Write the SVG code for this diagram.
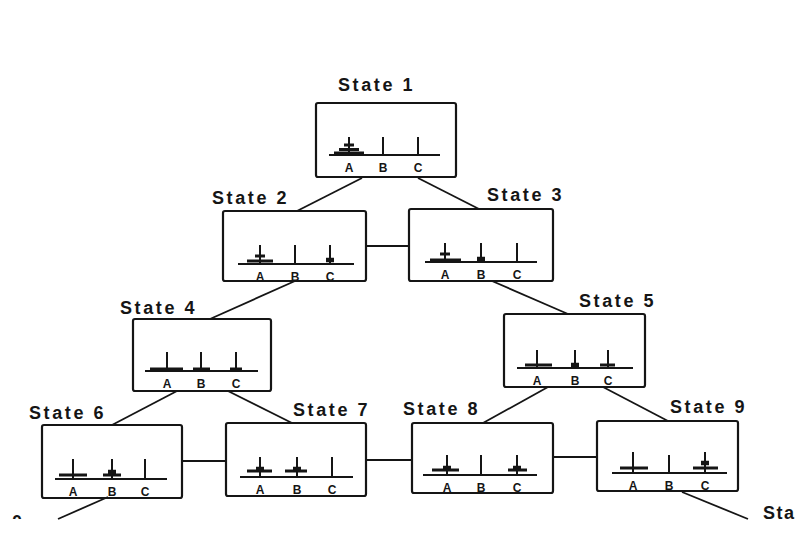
<svg xmlns="http://www.w3.org/2000/svg" width="795" height="539" viewBox="0 0 795 539">
<style>
.box{fill:none;stroke:#151515;stroke-width:2.2}
.edge{stroke:#151515;stroke-width:1.8;fill:none}
.base{stroke:#151515;stroke-width:2}
.peg{stroke:#151515;stroke-width:2}
.disk{stroke:#151515;stroke-width:3}
.dot{stroke:#151515;stroke-width:4.5}
.lbl{font-family:"Liberation Sans",Arial,sans-serif;font-weight:bold;font-size:18px;letter-spacing:2.6px;fill:#151515}
.pl{font-family:"Liberation Sans",Arial,sans-serif;font-weight:bold;font-size:12px;text-anchor:middle;fill:#151515}
</style>
<defs>
<clipPath id="cut"><rect x="0" y="0" width="795" height="519"/></clipPath>
</defs>
<rect x="0" y="0" width="795" height="539" fill="#ffffff"/>

<g id="connectors">
<line class="edge" x1="362" y1="178" x2="297" y2="211"/>
<line class="edge" x1="418" y1="178" x2="479" y2="209"/>
<line class="edge" x1="366" y1="246" x2="409" y2="246"/>
<line class="edge" x1="295" y1="281" x2="210" y2="319"/>
<line class="edge" x1="492" y1="281" x2="568" y2="314"/>
<line class="edge" x1="177" y1="391" x2="112" y2="425"/>
<line class="edge" x1="228" y1="391" x2="292" y2="423"/>
<line class="edge" x1="548" y1="387" x2="483" y2="423"/>
<line class="edge" x1="603" y1="387" x2="668" y2="421"/>
<line class="edge" x1="182" y1="461" x2="226" y2="461"/>
<line class="edge" x1="366" y1="460" x2="412" y2="460"/>
<line class="edge" x1="553" y1="457" x2="597" y2="457"/>
<line class="edge" x1="108" y1="497" x2="58" y2="519"/>
<line class="edge" x1="682" y1="492" x2="748" y2="519"/>
</g>

<g id="state1">
<text class="lbl" x="338" y="91">State 1</text>
<rect class="box" x="316" y="103" width="140" height="74" rx="2"/>
<line class="base" x1="329" y1="155" x2="440" y2="155"/>
<line class="peg" x1="349" y1="137" x2="349" y2="155"/>
<line class="peg" x1="383" y1="137" x2="383" y2="155"/>
<line class="peg" x1="418" y1="137" x2="418" y2="155"/>
<line class="disk" x1="334" y1="153" x2="364" y2="153"/>
<line class="disk" x1="339" y1="149.5" x2="359" y2="149.5"/>
<line class="disk" x1="344" y1="145" x2="354" y2="145"/>
<text class="pl" x="349" y="172">A</text>
<text class="pl" x="383" y="172">B</text>
<text class="pl" x="418" y="172">C</text>
</g>

<g id="state2">
<text class="lbl" x="212" y="204">State 2</text>
<rect class="box" x="223" y="211" width="143" height="70" rx="2"/>
<line class="base" x1="238" y1="264" x2="354" y2="264"/>
<line class="peg" x1="260" y1="245" x2="260" y2="264"/>
<line class="peg" x1="295" y1="245" x2="295" y2="264"/>
<line class="peg" x1="330" y1="245" x2="330" y2="264"/>
<line class="disk" x1="247" y1="261" x2="273" y2="261"/>
<line class="disk" x1="255" y1="256" x2="265" y2="256"/>
<line class="dot" x1="326" y1="260" x2="334" y2="260"/>
<text class="pl" x="260" y="281">A</text>
<text class="pl" x="295" y="281">B</text>
<text class="pl" x="330" y="281">C</text>
</g>

<g id="state3">
<text class="lbl" x="487" y="201">State 3</text>
<rect class="box" x="409" y="209" width="144" height="72" rx="2"/>
<line class="base" x1="425" y1="262" x2="537" y2="262"/>
<line class="peg" x1="445" y1="243" x2="445" y2="262"/>
<line class="peg" x1="481" y1="243" x2="481" y2="262"/>
<line class="peg" x1="517" y1="243" x2="517" y2="262"/>
<line class="disk" x1="430" y1="260" x2="461" y2="260"/>
<line class="disk" x1="440" y1="254" x2="450" y2="254"/>
<line class="dot" x1="477" y1="259" x2="485" y2="259"/>
<text class="pl" x="445" y="279">A</text>
<text class="pl" x="481" y="279">B</text>
<text class="pl" x="517" y="279">C</text>
</g>

<g id="state4">
<text class="lbl" x="120" y="314">State 4</text>
<rect class="box" x="133" y="319" width="138" height="72" rx="2"/>
<line class="base" x1="145" y1="371" x2="258" y2="371"/>
<line class="peg" x1="167" y1="352" x2="167" y2="371"/>
<line class="peg" x1="201" y1="352" x2="201" y2="371"/>
<line class="peg" x1="236" y1="352" x2="236" y2="371"/>
<line class="disk" x1="150" y1="369" x2="183" y2="369"/>
<line class="disk" x1="193" y1="369" x2="210" y2="369"/>
<line class="disk" x1="230" y1="369" x2="242" y2="369"/>
<text class="pl" x="167" y="388">A</text>
<text class="pl" x="201" y="388">B</text>
<text class="pl" x="236" y="388">C</text>
</g>

<g id="state5">
<text class="lbl" x="579" y="307">State 5</text>
<rect class="box" x="504" y="314" width="141" height="73" rx="2"/>
<line class="base" x1="517" y1="368" x2="633" y2="368"/>
<line class="peg" x1="537" y1="350" x2="537" y2="368"/>
<line class="peg" x1="575" y1="350" x2="575" y2="368"/>
<line class="peg" x1="608" y1="350" x2="608" y2="368"/>
<line class="disk" x1="525" y1="365" x2="552" y2="365"/>
<line class="dot" x1="571" y1="365" x2="579" y2="365"/>
<line class="disk" x1="600" y1="365" x2="615" y2="365"/>
<text class="pl" x="537" y="385">A</text>
<text class="pl" x="575" y="385">B</text>
<text class="pl" x="608" y="385">C</text>
</g>

<g id="state6">
<text class="lbl" x="29" y="419">State 6</text>
<rect class="box" x="42" y="425" width="140" height="73" rx="2"/>
<line class="base" x1="55" y1="479" x2="167" y2="479"/>
<line class="peg" x1="73" y1="459" x2="73" y2="479"/>
<line class="peg" x1="112" y1="459" x2="112" y2="479"/>
<line class="peg" x1="145" y1="459" x2="145" y2="479"/>
<line class="disk" x1="59" y1="475" x2="87" y2="475"/>
<line class="disk" x1="103" y1="475" x2="121" y2="475"/>
<line class="dot" x1="108" y1="472" x2="116" y2="472"/>
<text class="pl" x="73" y="496">A</text>
<text class="pl" x="112" y="496">B</text>
<text class="pl" x="145" y="496">C</text>
</g>

<g id="state7">
<text class="lbl" x="293" y="416">State 7</text>
<rect class="box" x="226" y="423" width="140" height="73" rx="2"/>
<line class="base" x1="240" y1="477" x2="353" y2="477"/>
<line class="peg" x1="260" y1="457" x2="260" y2="477"/>
<line class="peg" x1="297" y1="457" x2="297" y2="477"/>
<line class="peg" x1="332" y1="457" x2="332" y2="477"/>
<line class="disk" x1="247" y1="471" x2="272" y2="471"/>
<line class="dot" x1="256" y1="469" x2="264" y2="469"/>
<line class="disk" x1="285" y1="471" x2="307" y2="471"/>
<line class="dot" x1="293" y1="469" x2="301" y2="469"/>
<text class="pl" x="260" y="494">A</text>
<text class="pl" x="297" y="494">B</text>
<text class="pl" x="332" y="494">C</text>
</g>

<g id="state8">
<text class="lbl" x="403" y="415">State 8</text>
<rect class="box" x="412" y="423" width="141" height="70" rx="2"/>
<line class="base" x1="423" y1="475" x2="537" y2="475"/>
<line class="peg" x1="447" y1="455" x2="447" y2="475"/>
<line class="peg" x1="481" y1="455" x2="481" y2="475"/>
<line class="peg" x1="517" y1="455" x2="517" y2="475"/>
<line class="disk" x1="432" y1="470" x2="459" y2="470"/>
<line class="dot" x1="443" y1="468" x2="451" y2="468"/>
<line class="disk" x1="508" y1="470" x2="527" y2="470"/>
<line class="dot" x1="513" y1="468" x2="521" y2="468"/>
<text class="pl" x="447" y="492">A</text>
<text class="pl" x="481" y="492">B</text>
<text class="pl" x="517" y="492">C</text>
</g>

<g id="state9">
<text class="lbl" x="670" y="413">State 9</text>
<rect class="box" x="597" y="421" width="141" height="70" rx="2"/>
<line class="base" x1="612" y1="473" x2="727" y2="473"/>
<line class="peg" x1="633" y1="452" x2="633" y2="473"/>
<line class="peg" x1="669" y1="455" x2="669" y2="473"/>
<line class="peg" x1="705" y1="452" x2="705" y2="473"/>
<line class="disk" x1="620" y1="468" x2="648" y2="468"/>
<line class="disk" x1="693" y1="468" x2="718" y2="468"/>
<line class="dot" x1="701" y1="463" x2="709" y2="463"/>
<text class="pl" x="633" y="490">A</text>
<text class="pl" x="669" y="490">B</text>
<text class="pl" x="705" y="490">C</text>
</g>

<g id="state10-partial" clip-path="url(#cut)">
<text class="lbl" x="12" y="528">0</text>
</g>
<g id="state11-partial">
<text class="lbl" x="763" y="519" style="letter-spacing:1.5px">Sta</text>
</g>
</svg>
